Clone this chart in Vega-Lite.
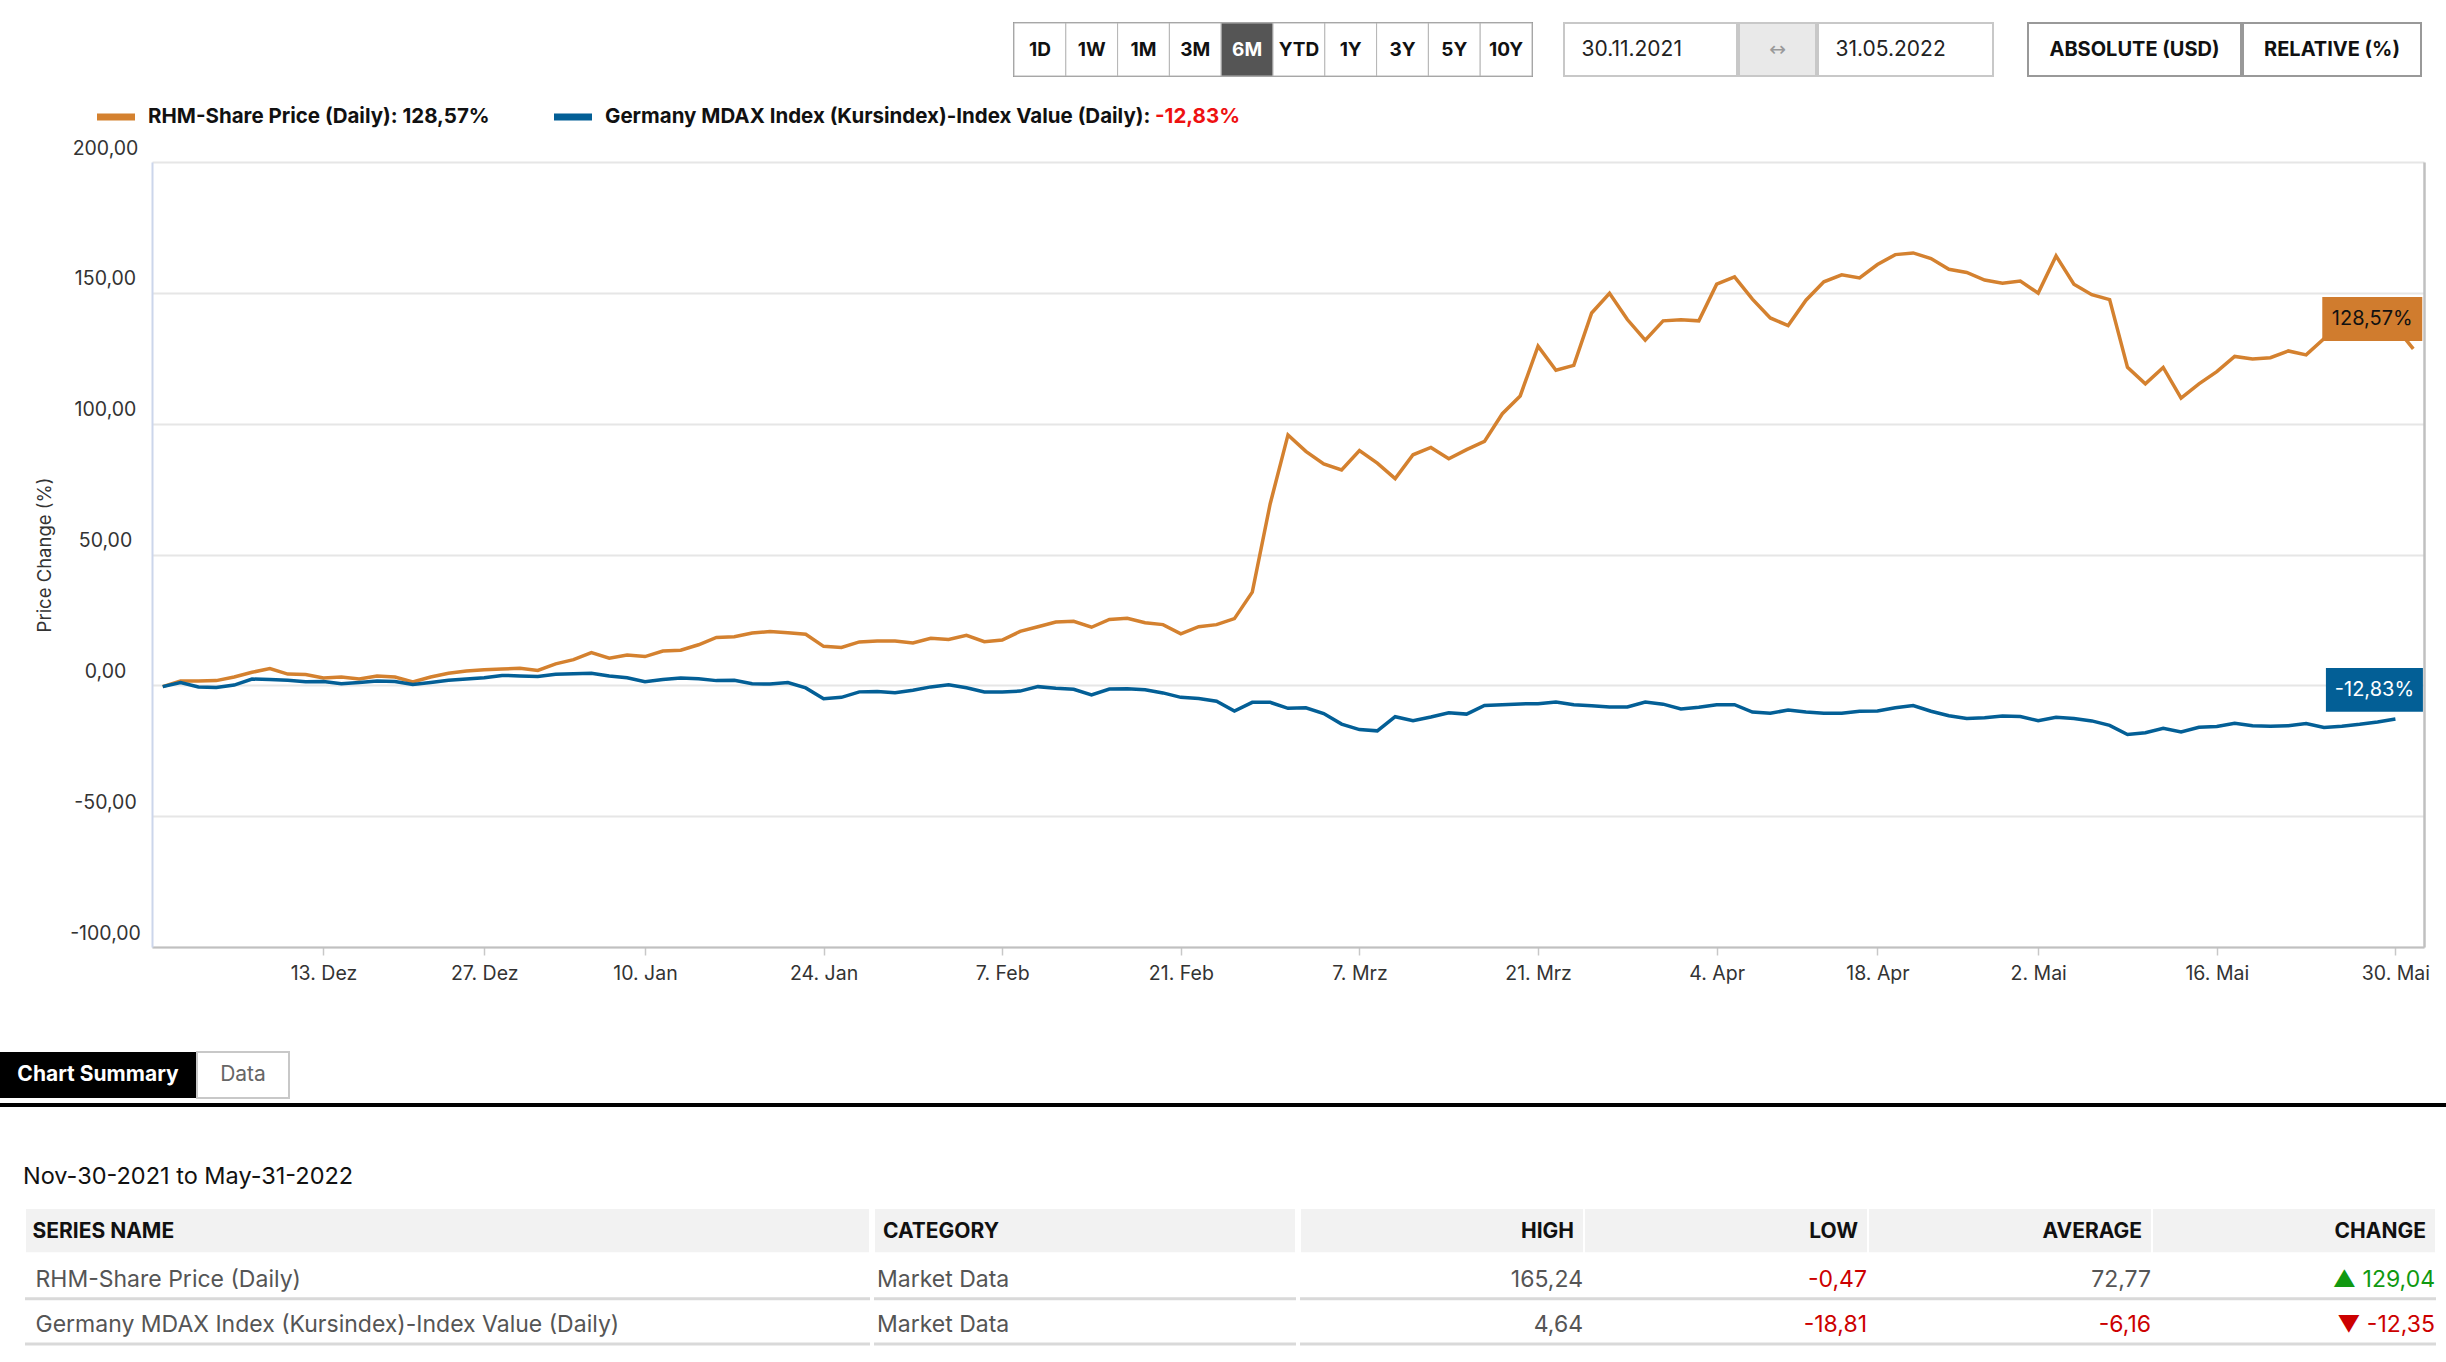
{
  "$schema": "https://vega.github.io/schema/vega-lite/v6.json",
  "padding": {"top": 21, "left": 0, "right": 0, "bottom": 0},
  "background": "white",
  "spacing": 0,
  "config": {"font": "Inter", "view": {"stroke": null}},
  "datasets": {
    "series": [
      {"d": "2021-11-30", "s": "RHM", "v": -0.47}, {"d": "2021-12-01", "s": "RHM", "v": 1.7}, {"d": "2021-12-02", "s": "RHM", "v": 1.7},
      {"d": "2021-12-03", "s": "RHM", "v": 1.8}, {"d": "2021-12-06", "s": "RHM", "v": 3.2}, {"d": "2021-12-07", "s": "RHM", "v": 5.0},
      {"d": "2021-12-08", "s": "RHM", "v": 6.4}, {"d": "2021-12-09", "s": "RHM", "v": 4.3}, {"d": "2021-12-10", "s": "RHM", "v": 4.1},
      {"d": "2021-12-13", "s": "RHM", "v": 2.8}, {"d": "2021-12-14", "s": "RHM", "v": 3.2}, {"d": "2021-12-15", "s": "RHM", "v": 2.4},
      {"d": "2021-12-16", "s": "RHM", "v": 3.6}, {"d": "2021-12-17", "s": "RHM", "v": 3.2}, {"d": "2021-12-20", "s": "RHM", "v": 1.3},
      {"d": "2021-12-21", "s": "RHM", "v": 3.2}, {"d": "2021-12-22", "s": "RHM", "v": 4.6}, {"d": "2021-12-23", "s": "RHM", "v": 5.5},
      {"d": "2021-12-27", "s": "RHM", "v": 6.0}, {"d": "2021-12-28", "s": "RHM", "v": 6.2}, {"d": "2021-12-29", "s": "RHM", "v": 6.5},
      {"d": "2021-12-30", "s": "RHM", "v": 5.7}, {"d": "2022-01-03", "s": "RHM", "v": 8.2}, {"d": "2022-01-04", "s": "RHM", "v": 9.8},
      {"d": "2022-01-05", "s": "RHM", "v": 12.5}, {"d": "2022-01-06", "s": "RHM", "v": 10.4}, {"d": "2022-01-07", "s": "RHM", "v": 11.6},
      {"d": "2022-01-10", "s": "RHM", "v": 11.0}, {"d": "2022-01-11", "s": "RHM", "v": 13.1}, {"d": "2022-01-12", "s": "RHM", "v": 13.4},
      {"d": "2022-01-13", "s": "RHM", "v": 15.5}, {"d": "2022-01-14", "s": "RHM", "v": 18.3}, {"d": "2022-01-17", "s": "RHM", "v": 18.6},
      {"d": "2022-01-18", "s": "RHM", "v": 20.0}, {"d": "2022-01-19", "s": "RHM", "v": 20.6}, {"d": "2022-01-20", "s": "RHM", "v": 20.1},
      {"d": "2022-01-21", "s": "RHM", "v": 19.5}, {"d": "2022-01-24", "s": "RHM", "v": 14.9}, {"d": "2022-01-25", "s": "RHM", "v": 14.5},
      {"d": "2022-01-26", "s": "RHM", "v": 16.6}, {"d": "2022-01-27", "s": "RHM", "v": 16.9}, {"d": "2022-01-28", "s": "RHM", "v": 16.9},
      {"d": "2022-01-31", "s": "RHM", "v": 16.2}, {"d": "2022-02-01", "s": "RHM", "v": 18.0}, {"d": "2022-02-02", "s": "RHM", "v": 17.5},
      {"d": "2022-02-03", "s": "RHM", "v": 19.1}, {"d": "2022-02-04", "s": "RHM", "v": 16.7}, {"d": "2022-02-07", "s": "RHM", "v": 17.3},
      {"d": "2022-02-08", "s": "RHM", "v": 20.6}, {"d": "2022-02-09", "s": "RHM", "v": 22.4}, {"d": "2022-02-10", "s": "RHM", "v": 24.2},
      {"d": "2022-02-11", "s": "RHM", "v": 24.5}, {"d": "2022-02-14", "s": "RHM", "v": 22.2}, {"d": "2022-02-15", "s": "RHM", "v": 25.2},
      {"d": "2022-02-16", "s": "RHM", "v": 25.6}, {"d": "2022-02-17", "s": "RHM", "v": 23.9}, {"d": "2022-02-18", "s": "RHM", "v": 23.2},
      {"d": "2022-02-21", "s": "RHM", "v": 19.7}, {"d": "2022-02-22", "s": "RHM", "v": 22.4}, {"d": "2022-02-23", "s": "RHM", "v": 23.2},
      {"d": "2022-02-24", "s": "RHM", "v": 25.5}, {"d": "2022-02-25", "s": "RHM", "v": 35.6}, {"d": "2022-02-28", "s": "RHM", "v": 69.3},
      {"d": "2022-03-01", "s": "RHM", "v": 95.7}, {"d": "2022-03-02", "s": "RHM", "v": 89.4}, {"d": "2022-03-03", "s": "RHM", "v": 84.6},
      {"d": "2022-03-04", "s": "RHM", "v": 82.3}, {"d": "2022-03-07", "s": "RHM", "v": 89.7}, {"d": "2022-03-08", "s": "RHM", "v": 84.9},
      {"d": "2022-03-09", "s": "RHM", "v": 79.0}, {"d": "2022-03-10", "s": "RHM", "v": 88.1}, {"d": "2022-03-11", "s": "RHM", "v": 90.9},
      {"d": "2022-03-14", "s": "RHM", "v": 86.6}, {"d": "2022-03-15", "s": "RHM", "v": 90.1}, {"d": "2022-03-16", "s": "RHM", "v": 93.2},
      {"d": "2022-03-17", "s": "RHM", "v": 103.8}, {"d": "2022-03-18", "s": "RHM", "v": 110.6}, {"d": "2022-03-21", "s": "RHM", "v": 129.6},
      {"d": "2022-03-22", "s": "RHM", "v": 120.4}, {"d": "2022-03-23", "s": "RHM", "v": 122.3}, {"d": "2022-03-24", "s": "RHM", "v": 142.3},
      {"d": "2022-03-25", "s": "RHM", "v": 149.8}, {"d": "2022-03-28", "s": "RHM", "v": 139.8}, {"d": "2022-03-29", "s": "RHM", "v": 131.9},
      {"d": "2022-03-30", "s": "RHM", "v": 139.3}, {"d": "2022-03-31", "s": "RHM", "v": 139.7}, {"d": "2022-04-01", "s": "RHM", "v": 139.3},
      {"d": "2022-04-04", "s": "RHM", "v": 153.3}, {"d": "2022-04-05", "s": "RHM", "v": 156.1}, {"d": "2022-04-06", "s": "RHM", "v": 147.6},
      {"d": "2022-04-07", "s": "RHM", "v": 140.4}, {"d": "2022-04-08", "s": "RHM", "v": 137.5}, {"d": "2022-04-11", "s": "RHM", "v": 147.2},
      {"d": "2022-04-12", "s": "RHM", "v": 154.2}, {"d": "2022-04-13", "s": "RHM", "v": 156.9}, {"d": "2022-04-14", "s": "RHM", "v": 155.7},
      {"d": "2022-04-19", "s": "RHM", "v": 160.8}, {"d": "2022-04-20", "s": "RHM", "v": 164.6}, {"d": "2022-04-21", "s": "RHM", "v": 165.24},
      {"d": "2022-04-22", "s": "RHM", "v": 163.1}, {"d": "2022-04-25", "s": "RHM", "v": 159.0}, {"d": "2022-04-26", "s": "RHM", "v": 157.8},
      {"d": "2022-04-27", "s": "RHM", "v": 154.9}, {"d": "2022-04-28", "s": "RHM", "v": 153.7}, {"d": "2022-04-29", "s": "RHM", "v": 154.5},
      {"d": "2022-05-02", "s": "RHM", "v": 149.9}, {"d": "2022-05-03", "s": "RHM", "v": 164.1}, {"d": "2022-05-04", "s": "RHM", "v": 153.3},
      {"d": "2022-05-05", "s": "RHM", "v": 149.3}, {"d": "2022-05-06", "s": "RHM", "v": 147.4}, {"d": "2022-05-09", "s": "RHM", "v": 121.5},
      {"d": "2022-05-10", "s": "RHM", "v": 115.2}, {"d": "2022-05-11", "s": "RHM", "v": 121.5}, {"d": "2022-05-12", "s": "RHM", "v": 109.8},
      {"d": "2022-05-13", "s": "RHM", "v": 115.2}, {"d": "2022-05-16", "s": "RHM", "v": 119.9}, {"d": "2022-05-17", "s": "RHM", "v": 125.7},
      {"d": "2022-05-18", "s": "RHM", "v": 124.7}, {"d": "2022-05-19", "s": "RHM", "v": 125.2}, {"d": "2022-05-20", "s": "RHM", "v": 127.8},
      {"d": "2022-05-23", "s": "RHM", "v": 126.3}, {"d": "2022-05-24", "s": "RHM", "v": 132.5}, {"d": "2022-05-25", "s": "RHM", "v": 133.0},
      {"d": "2022-05-26", "s": "RHM", "v": 134.4}, {"d": "2022-05-27", "s": "RHM", "v": 133.8}, {"d": "2022-05-30", "s": "RHM", "v": 137.1},
      {"d": "2022-05-31", "s": "RHM", "v": 128.57},
      {"d": "2021-11-30", "s": "MDAX", "v": -0.5}, {"d": "2021-12-01", "s": "MDAX", "v": 1.1}, {"d": "2021-12-02", "s": "MDAX", "v": -0.6},
      {"d": "2021-12-03", "s": "MDAX", "v": -0.8}, {"d": "2021-12-06", "s": "MDAX", "v": 0.1}, {"d": "2021-12-07", "s": "MDAX", "v": 2.4},
      {"d": "2021-12-08", "s": "MDAX", "v": 2.2}, {"d": "2021-12-09", "s": "MDAX", "v": 1.9}, {"d": "2021-12-10", "s": "MDAX", "v": 1.4},
      {"d": "2021-12-13", "s": "MDAX", "v": 1.5}, {"d": "2021-12-14", "s": "MDAX", "v": 0.6}, {"d": "2021-12-15", "s": "MDAX", "v": 1.1},
      {"d": "2021-12-16", "s": "MDAX", "v": 1.7}, {"d": "2021-12-17", "s": "MDAX", "v": 1.5}, {"d": "2021-12-20", "s": "MDAX", "v": 0.3},
      {"d": "2021-12-21", "s": "MDAX", "v": 1.1}, {"d": "2021-12-22", "s": "MDAX", "v": 1.9}, {"d": "2021-12-23", "s": "MDAX", "v": 2.4},
      {"d": "2021-12-27", "s": "MDAX", "v": 2.9}, {"d": "2021-12-28", "s": "MDAX", "v": 3.8}, {"d": "2021-12-29", "s": "MDAX", "v": 3.6},
      {"d": "2021-12-30", "s": "MDAX", "v": 3.4}, {"d": "2022-01-03", "s": "MDAX", "v": 4.2}, {"d": "2022-01-04", "s": "MDAX", "v": 4.4},
      {"d": "2022-01-05", "s": "MDAX", "v": 4.64}, {"d": "2022-01-06", "s": "MDAX", "v": 3.6}, {"d": "2022-01-07", "s": "MDAX", "v": 2.9},
      {"d": "2022-01-10", "s": "MDAX", "v": 1.4}, {"d": "2022-01-11", "s": "MDAX", "v": 2.2}, {"d": "2022-01-12", "s": "MDAX", "v": 2.8},
      {"d": "2022-01-13", "s": "MDAX", "v": 2.5}, {"d": "2022-01-14", "s": "MDAX", "v": 1.8}, {"d": "2022-01-17", "s": "MDAX", "v": 1.9},
      {"d": "2022-01-18", "s": "MDAX", "v": 0.6}, {"d": "2022-01-19", "s": "MDAX", "v": 0.5}, {"d": "2022-01-20", "s": "MDAX", "v": 1.1},
      {"d": "2022-01-21", "s": "MDAX", "v": -1.0}, {"d": "2022-01-24", "s": "MDAX", "v": -5.1}, {"d": "2022-01-25", "s": "MDAX", "v": -4.6},
      {"d": "2022-01-26", "s": "MDAX", "v": -2.5}, {"d": "2022-01-27", "s": "MDAX", "v": -2.4}, {"d": "2022-01-28", "s": "MDAX", "v": -2.8},
      {"d": "2022-01-31", "s": "MDAX", "v": -1.9}, {"d": "2022-02-01", "s": "MDAX", "v": -0.6}, {"d": "2022-02-02", "s": "MDAX", "v": 0.2},
      {"d": "2022-02-03", "s": "MDAX", "v": -0.9}, {"d": "2022-02-04", "s": "MDAX", "v": -2.5}, {"d": "2022-02-07", "s": "MDAX", "v": -2.5},
      {"d": "2022-02-08", "s": "MDAX", "v": -2.2}, {"d": "2022-02-09", "s": "MDAX", "v": -0.5}, {"d": "2022-02-10", "s": "MDAX", "v": -1.1},
      {"d": "2022-02-11", "s": "MDAX", "v": -1.5}, {"d": "2022-02-14", "s": "MDAX", "v": -3.7}, {"d": "2022-02-15", "s": "MDAX", "v": -1.4},
      {"d": "2022-02-16", "s": "MDAX", "v": -1.3}, {"d": "2022-02-17", "s": "MDAX", "v": -1.7}, {"d": "2022-02-18", "s": "MDAX", "v": -2.9},
      {"d": "2022-02-21", "s": "MDAX", "v": -4.6}, {"d": "2022-02-22", "s": "MDAX", "v": -5.0}, {"d": "2022-02-23", "s": "MDAX", "v": -6.1},
      {"d": "2022-02-24", "s": "MDAX", "v": -9.8}, {"d": "2022-02-25", "s": "MDAX", "v": -6.5}, {"d": "2022-02-28", "s": "MDAX", "v": -6.5},
      {"d": "2022-03-01", "s": "MDAX", "v": -8.8}, {"d": "2022-03-02", "s": "MDAX", "v": -8.6}, {"d": "2022-03-03", "s": "MDAX", "v": -10.8},
      {"d": "2022-03-04", "s": "MDAX", "v": -14.8}, {"d": "2022-03-07", "s": "MDAX", "v": -16.9}, {"d": "2022-03-08", "s": "MDAX", "v": -17.4},
      {"d": "2022-03-09", "s": "MDAX", "v": -12.0}, {"d": "2022-03-10", "s": "MDAX", "v": -13.5}, {"d": "2022-03-11", "s": "MDAX", "v": -12.1},
      {"d": "2022-03-14", "s": "MDAX", "v": -10.5}, {"d": "2022-03-15", "s": "MDAX", "v": -11.0}, {"d": "2022-03-16", "s": "MDAX", "v": -7.7},
      {"d": "2022-03-17", "s": "MDAX", "v": -7.4}, {"d": "2022-03-18", "s": "MDAX", "v": -7.1}, {"d": "2022-03-21", "s": "MDAX", "v": -7.0},
      {"d": "2022-03-22", "s": "MDAX", "v": -6.4}, {"d": "2022-03-23", "s": "MDAX", "v": -7.4}, {"d": "2022-03-24", "s": "MDAX", "v": -7.8},
      {"d": "2022-03-25", "s": "MDAX", "v": -8.3}, {"d": "2022-03-28", "s": "MDAX", "v": -8.3}, {"d": "2022-03-29", "s": "MDAX", "v": -6.4},
      {"d": "2022-03-30", "s": "MDAX", "v": -7.2}, {"d": "2022-03-31", "s": "MDAX", "v": -9.0}, {"d": "2022-04-01", "s": "MDAX", "v": -8.4},
      {"d": "2022-04-04", "s": "MDAX", "v": -7.4}, {"d": "2022-04-05", "s": "MDAX", "v": -7.4}, {"d": "2022-04-06", "s": "MDAX", "v": -10.2},
      {"d": "2022-04-07", "s": "MDAX", "v": -10.7}, {"d": "2022-04-08", "s": "MDAX", "v": -9.4}, {"d": "2022-04-11", "s": "MDAX", "v": -10.2},
      {"d": "2022-04-12", "s": "MDAX", "v": -10.7}, {"d": "2022-04-13", "s": "MDAX", "v": -10.7}, {"d": "2022-04-14", "s": "MDAX", "v": -9.9},
      {"d": "2022-04-19", "s": "MDAX", "v": -9.8}, {"d": "2022-04-20", "s": "MDAX", "v": -8.6}, {"d": "2022-04-21", "s": "MDAX", "v": -7.7},
      {"d": "2022-04-22", "s": "MDAX", "v": -9.9}, {"d": "2022-04-25", "s": "MDAX", "v": -11.6}, {"d": "2022-04-26", "s": "MDAX", "v": -12.7},
      {"d": "2022-04-27", "s": "MDAX", "v": -12.4}, {"d": "2022-04-28", "s": "MDAX", "v": -11.7}, {"d": "2022-04-29", "s": "MDAX", "v": -11.9},
      {"d": "2022-05-02", "s": "MDAX", "v": -13.5}, {"d": "2022-05-03", "s": "MDAX", "v": -12.2}, {"d": "2022-05-04", "s": "MDAX", "v": -12.7},
      {"d": "2022-05-05", "s": "MDAX", "v": -13.6}, {"d": "2022-05-06", "s": "MDAX", "v": -15.3}, {"d": "2022-05-09", "s": "MDAX", "v": -18.81},
      {"d": "2022-05-10", "s": "MDAX", "v": -18.1}, {"d": "2022-05-11", "s": "MDAX", "v": -16.4}, {"d": "2022-05-12", "s": "MDAX", "v": -17.8},
      {"d": "2022-05-13", "s": "MDAX", "v": -16.0}, {"d": "2022-05-16", "s": "MDAX", "v": -15.7}, {"d": "2022-05-17", "s": "MDAX", "v": -14.5},
      {"d": "2022-05-18", "s": "MDAX", "v": -15.4}, {"d": "2022-05-19", "s": "MDAX", "v": -15.6}, {"d": "2022-05-20", "s": "MDAX", "v": -15.4},
      {"d": "2022-05-23", "s": "MDAX", "v": -14.6}, {"d": "2022-05-24", "s": "MDAX", "v": -16.1}, {"d": "2022-05-25", "s": "MDAX", "v": -15.6},
      {"d": "2022-05-26", "s": "MDAX", "v": -14.9}, {"d": "2022-05-27", "s": "MDAX", "v": -14.0}, {"d": "2022-05-30", "s": "MDAX", "v": -12.83}
    ],
    "blank": [{}]
  },
  "vconcat": [
    {
      "spacing": 0,
      "hconcat": [
        {"width": 1012, "height": 53, "data": {"name": "blank"}, "mark": "text", "encoding": {"text": {"value": ""}}},
        {
          "width": 518, "height": 53,
          "view": {"stroke": "#999999", "strokeWidth": 2},
          "data": {"values": [{"b": "1D"}, {"b": "1W"}, {"b": "1M"}, {"b": "3M"}, {"b": "6M"}, {"b": "YTD"}, {"b": "1Y"}, {"b": "3Y"}, {"b": "5Y"}, {"b": "10Y"}]},
          "encoding": {"x": {"field": "b", "type": "nominal", "sort": null, "scale": {"type": "band", "paddingInner": 0, "paddingOuter": 0}, "axis": null}},
          "layer": [
            {"mark": {"type": "rect", "stroke": "#b5b5b5", "strokeWidth": 1},
             "encoding": {"fill": {"condition": {"test": "datum.b == '6M'", "value": "#555555"}, "value": "#ffffff"}}},
            {"mark": {"type": "text", "fontSize": 19, "fontWeight": "bold"},
             "encoding": {"text": {"field": "b"}, "color": {"condition": {"test": "datum.b == '6M'", "value": "#ffffff"}, "value": "#111111"}}}
          ]
        },
        {"width": 29, "height": 53, "data": {"name": "blank"}, "mark": "text", "encoding": {"text": {"value": ""}}},
        {"width": 173, "height": 53, "view": {"fill": "#ffffff", "stroke": "#c8c8c8", "strokeWidth": 2},
         "data": {"values": [{"t": "30.11.2021"}]},
         "mark": {"type": "text", "align": "left", "dx": -69, "fontSize": 21, "color": "#222222"},
         "encoding": {"text": {"field": "t"}}},
        {"width": 77, "height": 53, "view": {"fill": "#e9e9e9", "stroke": "#c8c8c8", "strokeWidth": 2},
         "data": {"values": [{"t": "↔"}]},
         "mark": {"type": "text", "font": "DejaVu Sans", "fontSize": 20, "color": "#9a9a9a"},
         "encoding": {"text": {"field": "t"}}},
        {"width": 175, "height": 53, "view": {"fill": "#ffffff", "stroke": "#c8c8c8", "strokeWidth": 2},
         "data": {"values": [{"t": "31.05.2022"}]},
         "mark": {"type": "text", "align": "left", "dx": -70, "fontSize": 21, "color": "#222222"},
         "encoding": {"text": {"field": "t"}}},
        {"width": 33, "height": 53, "data": {"name": "blank"}, "mark": "text", "encoding": {"text": {"value": ""}}},
        {"width": 213, "height": 53, "view": {"fill": "#ffffff", "stroke": "#999999", "strokeWidth": 2},
         "data": {"values": [{"t": "ABSOLUTE (USD)"}]},
         "mark": {"type": "text", "fontSize": 20, "fontWeight": "bold", "color": "#111111"},
         "encoding": {"text": {"field": "t"}}},
        {"width": 178, "height": 53, "view": {"fill": "#ffffff", "stroke": "#999999", "strokeWidth": 2},
         "data": {"values": [{"t": "RELATIVE (%)"}]},
         "mark": {"type": "text", "fontSize": 20, "fontWeight": "bold", "color": "#111111"},
         "encoding": {"text": {"field": "t"}}}
      ]
    },
    {
      "width": 1300, "height": 60,
      "data": {"values": [
        {"s": "RHM", "label": "RHM-Share Price (Daily): 128,57%", "chg": ""},
        {"s": "MDAX", "label": "Germany MDAX Index (Kursindex)-Index Value (Daily):", "chg": "-12,83%"}
      ]},
      "encoding": {"x": {"field": "s", "type": "nominal", "axis": null, "scale": {"type": "point", "domain": ["RHM", "MDAX"], "range": [97, 554], "padding": 0}}},
      "layer": [
        {"mark": {"type": "point", "shape": "M-1,-0.18H1V0.18H-1Z", "size": 1444, "filled": true, "opacity": 1, "xOffset": 19, "yOffset": 9},
         "encoding": {"color": {"field": "s", "type": "nominal", "scale": {"domain": ["RHM", "MDAX"], "range": ["#d4812f", "#035f96"]}, "legend": null}}},
        {"mark": {"type": "text", "align": "left", "dx": 51, "dy": 9, "fontSize": 20.5, "fontWeight": "bold", "color": "#111111"},
         "encoding": {"text": {"field": "label"}}},
        {"mark": {"type": "text", "align": "left", "dx": 601, "dy": 9, "fontSize": 20.5, "fontWeight": "bold", "color": "#ee1111"},
         "encoding": {"text": {"field": "chg"}}}
      ]
    },
    {
      "spacing": 0,
      "hconcat": [
        {"width": 35, "height": 10, "data": {"name": "blank"}, "mark": "text", "encoding": {"text": {"value": ""}}},
        {
          "width": 2272, "height": 785,
          "data": {"name": "series"},
          "encoding": {
            "x": {"field": "d", "type": "ordinal", "title": null,
                  "scale": {"type": "point", "padding": 0.6},
                  "axis": {
                    "values": ["2021-12-13", "2021-12-27", "2022-01-10", "2022-01-24", "2022-02-07", "2022-02-21", "2022-03-07", "2022-03-21", "2022-04-04", "2022-04-19", "2022-05-02", "2022-05-16", "2022-05-30"],
                    "labelExpr": "datum.value == '2022-04-19' ? '18. Apr' : toNumber(substring(datum.value, 8, 10)) + '. ' + substring('JanFebMrzAprMaiJunJulAugSepOktNovDez', (toNumber(substring(datum.value, 5, 7)) - 1) * 3, toNumber(substring(datum.value, 5, 7)) * 3)",
                    "labelAngle": 0, "labelFontSize": 19.5, "labelColor": "#333333", "labelPadding": 9,
                    "domainColor": "#c0c0c0", "domainWidth": 2, "tickColor": "#c8c8c8", "tickSize": 8, "tickWidth": 1.5, "grid": false
                  }}
          },
          "layer": [
            {
              "mark": {"type": "line", "strokeWidth": 3.5},
              "encoding": {
                "y": {"field": "v", "type": "quantitative", "title": "Price Change (%)",
                      "scale": {"domain": [-100, 200], "nice": false, "zero": false},
                      "axis": {
                        "values": [-100, -50, 0, 50, 100, 150, 200],
                        "labelExpr": "replace(replace(format(datum.value, '.2f'), '.', ','), '−', '-')",
                        "labelAlign": "center", "labelPadding": 47, "labelBaseline": "alphabetic", "labelOffset": -8,
                        "labelFontSize": 19.5, "labelColor": "#333333",
                        "ticks": false, "domainColor": "#ccd6eb", "domainWidth": 2,
                        "gridColor": "#e6e6e6", "gridWidth": 2,
                        "titleFontSize": 18.5, "titleFontWeight": "normal", "titleColor": "#333333",
                        "titleX": -98
                      }},
                "color": {"field": "s", "type": "nominal", "scale": {"domain": ["RHM", "MDAX"], "range": ["#d4812f", "#035f96"]}, "legend": null}
              }
            },
            {
              "transform": [{"filter": "datum.s == 'RHM' && datum.d == '2022-05-31'"}],
              "mark": {"type": "point", "shape": "M-1,-0.44H1V0.44H-1Z", "size": 10000, "filled": true, "opacity": 1, "color": "#d07c2e", "xOffset": -41, "yOffset": -30},
              "encoding": {"y": {"field": "v", "type": "quantitative",
                                 "axis": {"orient": "right", "labels": false, "ticks": false, "grid": false, "title": null, "domainColor": "#c0c0c0", "domainWidth": 2.5}}}
            },
            {
              "transform": [{"filter": "datum.s == 'RHM' && datum.d == '2022-05-31'"},
                            {"calculate": "replace(replace(format(datum.v, '.2f'), '.', ','), '−', '-') + '%'", "as": "lab"}],
              "mark": {"type": "text", "fontSize": 20, "color": "#111111", "dx": -41, "dy": -30},
              "encoding": {"y": {"field": "v", "type": "quantitative", "axis": null}, "text": {"field": "lab"}}
            },
            {
              "transform": [{"filter": "datum.s == 'MDAX' && datum.d == '2022-05-30'"}],
              "mark": {"type": "point", "shape": "M-1,-0.45H1V0.45H-1Z", "size": 9409, "filled": true, "opacity": 1, "color": "#035f96", "xOffset": -21, "yOffset": -29},
              "encoding": {"y": {"field": "v", "type": "quantitative", "axis": null}}
            },
            {
              "transform": [{"filter": "datum.s == 'MDAX' && datum.d == '2022-05-30'"},
                            {"calculate": "replace(replace(format(datum.v, '.2f'), '.', ','), '−', '-') + '%'", "as": "lab"}],
              "mark": {"type": "text", "fontSize": 20, "color": "#ffffff", "dx": -21, "dy": -29},
              "encoding": {"y": {"field": "v", "type": "quantitative", "axis": null}, "text": {"field": "lab"}}
            }
          ],
          "resolve": {"axis": {"y": "independent"}}
        }
      ]
    },
    {"width": 1, "height": 68, "data": {"name": "blank"}, "mark": "text", "encoding": {"text": {"value": ""}}},
    {
      "spacing": 0,
      "hconcat": [
        {"width": 196, "height": 46, "view": {"fill": "#000000", "stroke": null},
         "data": {"values": [{"t": "Chart Summary"}]},
         "mark": {"type": "text", "fontSize": 21, "fontWeight": "bold", "color": "#ffffff"},
         "encoding": {"text": {"field": "t"}}},
        {"width": 92, "height": 46, "view": {"fill": "#ffffff", "stroke": "#c8c8c8", "strokeWidth": 2},
         "data": {"values": [{"t": "Data"}]},
         "mark": {"type": "text", "fontSize": 21, "color": "#666666"},
         "encoding": {"text": {"field": "t"}}}
      ]
    },
    {"width": 2446, "height": 4, "view": {"fill": "#000000", "stroke": null}, "data": {"name": "blank"}, "mark": "text", "encoding": {"text": {"value": ""}}},
    {"width": 1, "height": 54, "data": {"name": "blank"}, "mark": "text", "encoding": {"text": {"value": ""}}},
    {
      "spacing": 0,
      "title": {"text": "Nov-30-2021 to May-31-2022", "anchor": "start", "fontSize": 23.5, "fontWeight": "normal", "color": "#111111", "dx": 23, "offset": 19},
      "hconcat": [
        {"width": 23, "height": 136, "data": {"name": "blank"}, "mark": "text", "encoding": {"text": {"value": ""}}},
        {
          "width": 845, "height": 136,
          "data": {"values": [
            {"r": "h", "t": "SERIES NAME"},
            {"r": "RHM", "t": "RHM-Share Price (Daily)"},
            {"r": "MDAX", "t": "Germany MDAX Index (Kursindex)-Index Value (Daily)"}
          ]},
          "encoding": {"y": {"field": "r", "type": "nominal", "axis": null, "scale": {"type": "band", "domain": ["h", "RHM", "MDAX"], "paddingInner": 0, "paddingOuter": 0}}},
          "layer": [
            {"transform": [{"filter": "datum.r == 'h'"}], "mark": {"type": "rect", "fill": "#f2f2f2", "stroke": "#ffffff", "strokeWidth": 2}},
            {"transform": [{"filter": "datum.r != 'h'"}], "mark": {"type": "rule", "color": "#d9d9d9", "strokeWidth": 3},
             "encoding": {"y": {"field": "r", "type": "nominal", "bandPosition": 1, "axis": null}}},
            {"transform": [{"filter": "datum.r == 'h'"}], "mark": {"type": "text", "align": "left", "dx": -415, "dy": 1, "fontSize": 21, "fontWeight": "bold", "color": "#111111"},
             "encoding": {"text": {"field": "t"}}},
            {"transform": [{"filter": "datum.r != 'h'"}], "mark": {"type": "text", "align": "left", "dx": -412, "dy": 4, "fontSize": 23, "color": "#555555"},
             "encoding": {"text": {"field": "t"}}}
          ]
        },
        {
          "width": 422, "height": 136,
          "data": {"values": [
            {"r": "h", "t": "CATEGORY"},
            {"r": "RHM", "t": "Market Data"},
            {"r": "MDAX", "t": "Market Data"}
          ]},
          "encoding": {"y": {"field": "r", "type": "nominal", "axis": null, "scale": {"type": "band", "domain": ["h", "RHM", "MDAX"], "paddingInner": 0, "paddingOuter": 0}}},
          "layer": [
            {"transform": [{"filter": "datum.r == 'h'"}], "mark": {"type": "rect", "fill": "#f2f2f2", "stroke": "#ffffff", "strokeWidth": 2}},
            {"transform": [{"filter": "datum.r != 'h'"}], "mark": {"type": "rule", "color": "#d9d9d9", "strokeWidth": 3},
             "encoding": {"y": {"field": "r", "type": "nominal", "bandPosition": 1, "axis": null}}},
            {"transform": [{"filter": "datum.r == 'h'"}], "mark": {"type": "text", "align": "left", "dx": -202, "dy": 1, "fontSize": 21, "fontWeight": "bold", "color": "#111111"},
             "encoding": {"text": {"field": "t"}}},
            {"transform": [{"filter": "datum.r != 'h'"}], "mark": {"type": "text", "align": "left", "dx": -208, "dy": 4, "fontSize": 23, "color": "#555555"},
             "encoding": {"text": {"field": "t"}}}
          ]
        },
        {
          "width": 1136, "height": 136,
          "data": {"values": [
            {"r": "h", "c": "HIGH"}, {"r": "h", "c": "LOW"}, {"r": "h", "c": "AVERAGE"}, {"r": "h", "c": "CHANGE"},
            {"r": "RHM", "c": "HIGH", "v": 165.24}, {"r": "RHM", "c": "LOW", "v": -0.47}, {"r": "RHM", "c": "AVERAGE", "v": 72.77}, {"r": "RHM", "c": "CHANGE", "v": 129.04},
            {"r": "MDAX", "c": "HIGH", "v": 4.64}, {"r": "MDAX", "c": "LOW", "v": -18.81}, {"r": "MDAX", "c": "AVERAGE", "v": -6.16}, {"r": "MDAX", "c": "CHANGE", "v": -12.35}
          ]},
          "encoding": {"y": {"field": "r", "type": "nominal", "axis": null, "scale": {"type": "band", "domain": ["h", "RHM", "MDAX"], "paddingInner": 0, "paddingOuter": 0}}},
          "layer": [
            {"transform": [{"filter": "datum.r == 'h'"}], "mark": {"type": "rect", "fill": "#f2f2f2", "stroke": "#ffffff", "strokeWidth": 2},
             "encoding": {"x": {"field": "c", "type": "nominal", "sort": null, "axis": null, "scale": {"type": "band", "domain": ["HIGH", "LOW", "AVERAGE", "CHANGE"], "paddingInner": 0, "paddingOuter": 0}}}},
            {"transform": [{"filter": "datum.r != 'h' && datum.c == 'HIGH'"}], "mark": {"type": "rule", "color": "#d9d9d9", "strokeWidth": 3},
             "encoding": {"y": {"field": "r", "type": "nominal", "bandPosition": 1, "axis": null}}},
            {"transform": [{"filter": "datum.r == 'h'"}], "mark": {"type": "text", "align": "right", "dx": -10, "dy": 1, "fontSize": 21, "fontWeight": "bold", "color": "#111111"},
             "encoding": {"x": {"field": "c", "type": "nominal", "sort": null, "axis": null, "bandPosition": 1, "scale": {"type": "band", "domain": ["HIGH", "LOW", "AVERAGE", "CHANGE"], "paddingInner": 0, "paddingOuter": 0}},
                          "text": {"field": "c"}}},
            {"transform": [{"filter": "datum.r != 'h'"},
                           {"calculate": "(datum.c == 'CHANGE' ? (datum.v > 0 ? '▲  ' : '▼  ') : '') + replace(replace(format(datum.v, '.2f'), '.', ','), '−', '-')", "as": "lab"}],
             "mark": {"type": "text", "align": "right", "dx": -1, "dy": 4, "fontSize": 23},
             "encoding": {"x": {"field": "c", "type": "nominal", "sort": null, "axis": null, "bandPosition": 1, "scale": {"type": "band", "domain": ["HIGH", "LOW", "AVERAGE", "CHANGE"], "paddingInner": 0, "paddingOuter": 0}},
                          "text": {"field": "lab"},
                          "color": {"condition": [{"test": "datum.c == 'CHANGE' && datum.v > 0", "value": "#119911"}, {"test": "datum.v < 0", "value": "#cc0000"}], "value": "#555555"}}}
          ]
        }
      ]
    }
  ]
}
